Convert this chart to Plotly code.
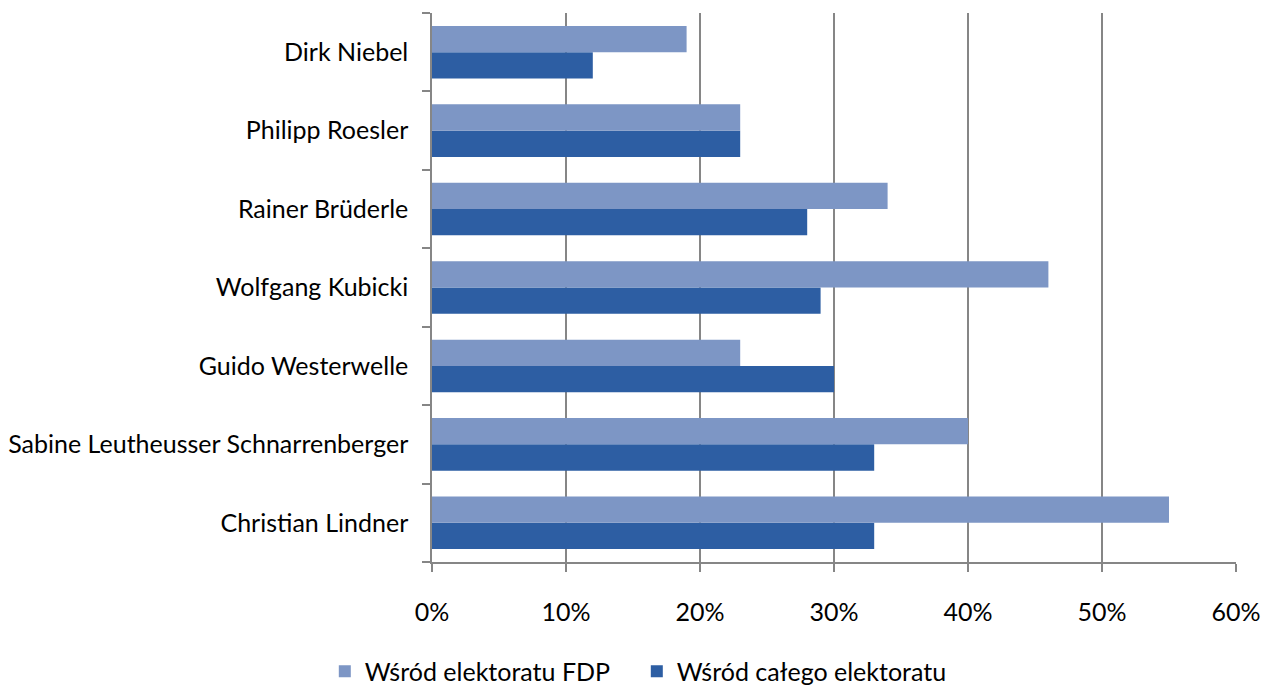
import plotly.graph_objects as go

categories = ["Christian Lindner", "Sabine Leutheusser Schnarrenberger", "Guido Westerwelle",
              "Wolfgang Kubicki", "Rainer Brüderle", "Philipp Roesler", "Dirk Niebel"]
fdp_values = [55, 40, 23, 46, 34, 23, 19]
all_values = [33, 33, 30, 29, 28, 23, 12]
x_ticks = [0, 10, 20, 30, 40, 50, 60]
x_tick_labels = ["0%", "10%", "20%", "30%", "40%", "50%", "60%"]

font = "Lato"

fig = go.Figure()
fig.add_trace(go.Bar(
    y=categories, x=all_values, orientation="h", name="Wśród całego elektoratu",
    marker=dict(color="#2D5EA3", line=dict(width=0)), legendrank=2,
))
fig.add_trace(go.Bar(
    y=categories, x=fdp_values, orientation="h", name="Wśród elektoratu FDP",
    marker=dict(color="#7D96C5", line=dict(width=0)), legendrank=1,
))

fig.update_layout(
    width=1261, height=688,
    margin=dict(l=432, r=25, t=13, b=126),
    barmode="group", bargap=0.33, bargroupgap=0,
    plot_bgcolor="white", paper_bgcolor="white",
    font=dict(family=font, size=25, color="black"),
    showlegend=True,
    legend=dict(orientation="h", xref="container", yref="container",
                x=0.505, xanchor="center", y=0.024, yanchor="middle",
                font=dict(size=25), traceorder="normal", itemwidth=30,
                entrywidth=267),
    xaxis=dict(range=[0, 60], tickvals=x_ticks, ticktext=x_tick_labels,
               showgrid=True, gridcolor="#868686", gridwidth=1.5,
               showline=True, linecolor="#868686", linewidth=1.5,
               ticks="outside", ticklen=8, tickcolor="#868686", tickwidth=1.5,
               ticklabelstandoff=19, zeroline=False, mirror=False, automargin=False),
    yaxis=dict(categoryorder="array", categoryarray=categories,
               showline=True, linecolor="#868686", linewidth=1.5,
               ticks="outside", ticklen=8, tickcolor="#868686", tickwidth=1.5,
               tickson="boundaries", showgrid=False, ticklabelstandoff=17, automargin=False),
)

fig.write_html("out.html")
